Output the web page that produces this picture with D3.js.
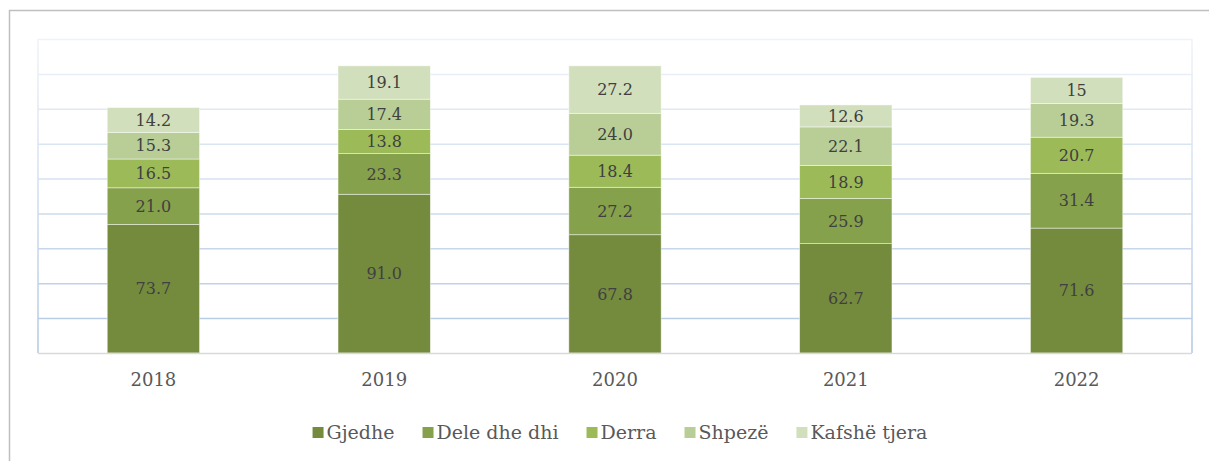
<!DOCTYPE html>
<html>
<head>
<meta charset="utf-8">
<script src="https://cdn.jsdelivr.net/npm/d3@7"></script>
<style>
  body { margin: 0; background: #fff; }
  text { font-family: "DejaVu Serif", "Liberation Serif", serif; }
</style>
</head>
<body>
<div id="chart"></div>
<script>
const years = ['2018', '2019', '2020', '2021', '2022'];
const seriesNames = ['Gjedhe', 'Dele dhe dhi', 'Derra', 'Shpezë', 'Kafshë tjera'];
const colors = ['#748b3e', '#86a14b', '#9cbb58', '#b9ce96', '#d2dfbc'];

const gjedhe = [73.7, 91.0, 67.8, 62.7, 71.6];
const dele = [21.0, 23.3, 27.2, 25.9, 31.4];
const derra = [16.5, 13.8, 18.4, 18.9, 20.7];
const shpeze = [15.3, 17.4, 24.0, 22.1, 19.3];
const kafshe = [14.2, 19.1, 27.2, 12.6, 15];
// labels as printed in the source (one value has no decimal)
const labelText = [
  ['73.7', '91.0', '67.8', '62.7', '71.6'],
  ['21.0', '23.3', '27.2', '25.9', '31.4'],
  ['16.5', '13.8', '18.4', '18.9', '20.7'],
  ['15.3', '17.4', '24.0', '22.1', '19.3'],
  ['14.2', '19.1', '27.2', '12.6', '15']
];
const yTicks = [0, 20, 40, 60, 80, 100, 120, 140, 160, 180];

const allSeries = [gjedhe, dele, derra, shpeze, kafshe];
const table = years.map((yr, i) => {
  const row = { year: yr };
  seriesNames.forEach((s, j) => row[s] = allSeries[j][i]);
  return row;
});

var width = 1209;
var height = 461;
var margin = { top: 39, bottom: 108, left: 38, right: 17 };

var svg = d3.select('#chart')
  .append('svg')
  .attr('width', width)
  .attr('height', height);

// outer frame (only top and left are visible)
svg.append('path')
  .attr('d', `M9.5,${height} V10.5 H${width}`)
  .attr('fill', 'none')
  .attr('stroke', '#bfbfbf')
  .attr('stroke-width', 1.5);

const x = d3.scaleBand()
  .domain(years)
  .range([margin.left, width - margin.right])
  .paddingInner(0.6)
  .paddingOuter(0.3);

const y = d3.scaleLinear()
  .domain([0, 180])
  .range([height - margin.bottom, margin.top]);

// grid lines, fading towards the top
const gridColor = d3.scaleLinear()
  .domain([180, 0])
  .range(['#eef3f9', '#b3c8e4']);

const defs = svg.append('defs');
const grad = defs.append('linearGradient')
  .attr('id', 'side')
  .attr('x1', 0).attr('y1', 0).attr('x2', 0).attr('y2', 1);
grad.append('stop').attr('offset', '0%').attr('stop-color', '#eef3f9');
grad.append('stop').attr('offset', '100%').attr('stop-color', '#b3c8e4');

svg.append('g')
  .selectAll('line')
  .data(yTicks.filter(d => d > 0))
  .join('line')
    .attr('x1', margin.left)
    .attr('x2', width - margin.right)
    .attr('y1', d => y(d) + 0.5)
    .attr('y2', d => y(d) + 0.5)
    .attr('stroke', d => gridColor(d))
    .attr('stroke-width', 1.5);

[margin.left, width - margin.right].forEach(px => {
  svg.append('rect')
    .attr('x', px - 0.75)
    .attr('y', y(180))
    .attr('width', 1.5)
    .attr('height', y(0) - y(180))
    .attr('fill', 'url(#side)');
});

const stack = d3.stack().keys(seriesNames)(table);

const groups = svg.append('g')
  .selectAll('g')
  .data(stack)
  .join('g')
    .attr('fill', (d, i) => colors[i]);

groups.selectAll('rect')
  .data(d => d)
  .join('rect')
    .attr('x', d => x(d.data.year))
    .attr('y', d => y(d[1]))
    .attr('width', x.bandwidth())
    .attr('height', d => y(d[0]) - y(d[1]))
    .attr('stroke', '#ffffff')
    .attr('stroke-opacity', 0.6)
    .attr('stroke-width', 0.75);

groups.each(function(s, j) {
  d3.select(this).selectAll('text')
    .data(s)
    .join('text')
      .attr('x', d => x(d.data.year) + x.bandwidth() / 2)
      .attr('y', d => (y(d[0]) + y(d[1])) / 2)
      .attr('dy', '0.36em')
      .attr('text-anchor', 'middle')
      .attr('font-size', '16px')
      .attr('fill', '#404040')
      .text((d, i) => labelText[j][i]);
});

// x axis
function xAxis(g) {
  g.attr('transform', `translate(0,${y(0)})`)
    .call(d3.axisBottom(x).tickSize(0).tickPadding(20))
    .attr('font-size', '18px')
    .call(g => g.select('.domain').remove())
    .call(g => g.selectAll('text').attr('fill', '#595959')
      .attr('font-family', '"DejaVu Serif", serif'));
}
svg.append('line')
  .attr('x1', margin.left)
  .attr('x2', width - margin.right)
  .attr('y1', y(0) + 0.5)
  .attr('y2', y(0) + 0.5)
  .attr('stroke', '#d9d9d9')
  .attr('stroke-width', 1.5);
svg.append('g').call(xAxis);

// legend
const legend = svg.append('g').attr('transform', 'translate(0,432)');
const items = legend.selectAll('g')
  .data(seriesNames)
  .join('g');
items.append('rect')
  .attr('y', -5)
  .attr('width', 11)
  .attr('height', 11)
  .attr('fill', (d, i) => colors[i]);
items.append('text')
  .attr('x', 14)
  .attr('dy', '0.35em')
  .attr('font-size', '19px')
  .attr('fill', '#595959')
  .text(d => d);

let widths = [];
items.each(function() { widths.push(this.getBBox().width); });
const gap = 28;
const total = d3.sum(widths) + gap * (widths.length - 1);
let cursor = 620 - total / 2;
items.attr('transform', (d, i) => {
  const t = `translate(${cursor},0)`;
  cursor += widths[i] + gap;
  return t;
});
</script>
</body>
</html>
